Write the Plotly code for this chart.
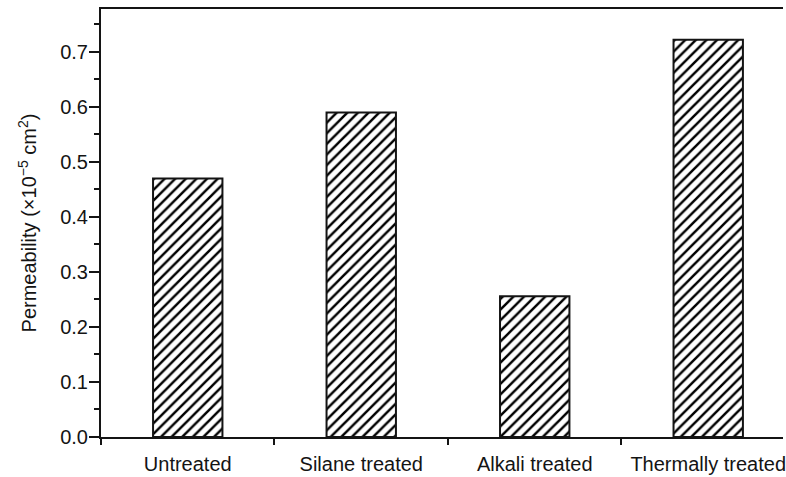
import plotly.graph_objects as go

# Permeability of fibre mats after different surface treatments
categories = ["Untreated", "Silane treated", "Alkali treated", "Thermally treated"]
permeability = [0.47, 0.59, 0.256, 0.722]  # x10^-5 cm^2

y_tick_values = [0.0, 0.1, 0.2, 0.3, 0.4, 0.5, 0.6, 0.7]
y_tick_labels = ["0.0", "0.1", "0.2", "0.3", "0.4", "0.5", "0.6", "0.7"]

FONT = "Liberation Sans, Arial, sans-serif"
INK = "#141414"

fig = go.Figure(
    go.Bar(
        x=categories,
        y=permeability,
        width=0.4,
        marker=dict(
            color="white",
            line=dict(color=INK, width=2),
            pattern=dict(shape="/", size=7.5, solidity=0.33,
                         fgcolor="#000000", fgopacity=1, bgcolor="white",
                         fillmode="overlay"),
        ),
    )
)

fig.update_layout(
    width=786,
    height=477,
    margin=dict(l=101, r=0, t=9, b=40),
    paper_bgcolor="white",
    plot_bgcolor="white",
    showlegend=False,
    font=dict(family=FONT, size=20, color=INK),
    bargap=0.6,
)

fig.update_xaxes(
    type="category",
    range=[-0.5, 3.431],
    showgrid=False,
    showline=True,
    linecolor=INK,
    linewidth=2,
    mirror=True,
    ticks="outside",
    tickson="boundaries",
    ticklen=6,
    tickwidth=2,
    tickcolor=INK,
    tickfont=dict(size=20),
    ticklabelstandoff=8,
)

fig.update_yaxes(
    range=[0, 0.778],
    showgrid=False,
    zeroline=False,
    showline=True,
    linecolor=INK,
    linewidth=2,
    ticks="outside",
    ticklen=10,
    tickwidth=2,
    tickcolor=INK,
    tickvals=y_tick_values,
    ticktext=y_tick_labels,
    tickfont=dict(size=20),
    ticklabelstandoff=-3,
    minor=dict(ticks="outside", ticklen=5, tickwidth=2, tickcolor=INK, dtick=0.05),
    title=dict(text="Permeability (\u00d710<sup>\u22125</sup> cm<sup>2</sup>)",
               font=dict(size=20), standoff=18),
)

fig.write_html("out.html")
